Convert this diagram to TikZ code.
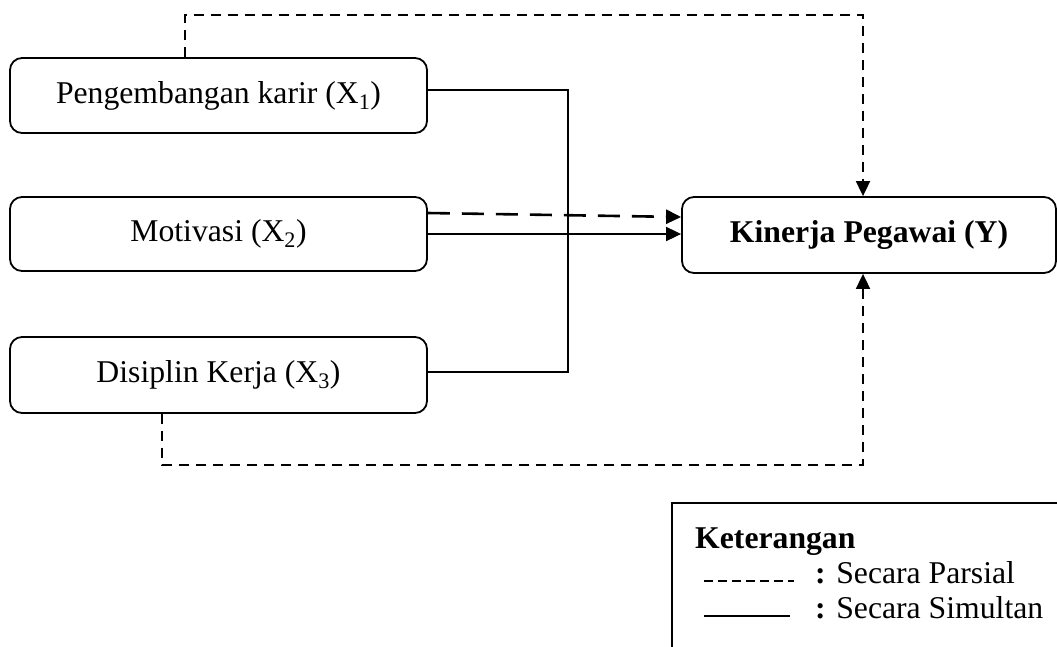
\documentclass[tikz,border=0pt]{standalone}
\usepackage{fontspec}
\setmainfont{Liberation Serif}
\usetikzlibrary{arrows.meta}
\begin{document}
\begin{tikzpicture}[x=1pt,y=-1pt,
  font=\fontsize{31.7}{38}\selectfont,
  varbox/.style={draw,line width=1.8pt,rounded corners=12pt,inner sep=0pt,minimum width=417pt},
  parsial/.style={line width=1.8pt,dash pattern=on 10pt off 7pt},
  simultan/.style={line width=1.8pt},
  tip/.style={-{Triangle[length=15pt,width=14pt]}},
  legtext/.style={anchor=base west,inner sep=0pt}]
\useasboundingbox (0,0) rectangle (1057,646);
\node[varbox,minimum height=75pt] (x1) at (218.5,95.5) {Pengembangan karir (X\textsubscript{1})};
\node[varbox,minimum height=74pt] (x2) at (218.5,234) {Motivasi (X\textsubscript{2})};
\node[varbox,minimum height=76pt] (x3) at (218.5,375) {Disiplin Kerja (X\textsubscript{3})};
\node[varbox,minimum width=374pt,minimum height=76pt] (y) at (869,235) {\bfseries Kinerja Pegawai (Y)};
% partial paths
\coordinate (t1) at (185,15);
\coordinate (t2) at (863,15);
\coordinate (b1) at (162,465);
\coordinate (b2) at (863,465);
\draw[parsial,tip] (x1.north -| t1) -- (t1) -- (t2) -- (y.north -| t2);
\draw[parsial,tip] (x3.south -| b1) -- (b1) -- (b2) -- (y.south -| b2);
\draw[line width=2.6pt,dash pattern=on 22pt off 12pt,tip] (x2.east |- 0,213) -- (y.west |- 0,217);
\draw[simultan,tip] (x2.east |- 0,234) -- (y.west |- 0,234);
% simultaneous bracket
\coordinate (j1) at (568,90);
\coordinate (j2) at (568,372);
\draw[simultan] (x1.east |- j1) -- (j1) -- (j2) -- (x3.east |- j2);
% legend
\coordinate (l1) at (672,648);
\coordinate (l2) at (672,503);
\coordinate (l3) at (1059,503);
\draw[line width=1.8pt] (l1) -- (l2) -- (l3);
\node[legtext] (ket) at (695,548) {\bfseries Keterangan};
\coordinate (pa) at (704,581);
\coordinate (pb) at (794,581);
\draw[line width=1.6pt,dash pattern=on 9pt off 5pt] (pa) -- (pb);
\node[legtext] (par) at (815,583) {\textbf{:} Secara Parsial};
\coordinate (sa) at (704,616);
\coordinate (sb) at (790,616);
\draw[simultan] (sa) -- (sb);
\node[legtext] (sim) at (815,618) {\textbf{:} Secara Simultan};
\end{tikzpicture}
\end{document}
